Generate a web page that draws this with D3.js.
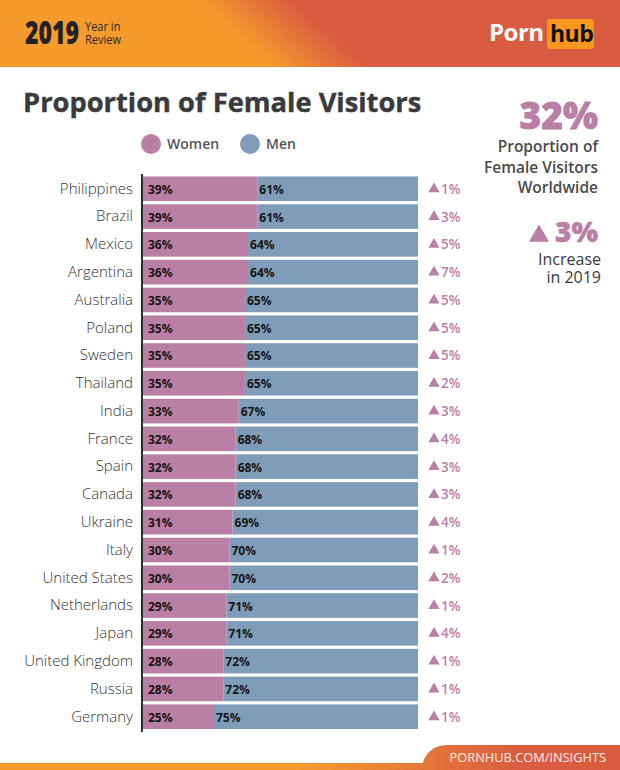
<!DOCTYPE html>
<html>
<head>
<meta charset="utf-8">
<script src="https://cdn.jsdelivr.net/npm/d3@7/dist/d3.min.js"></script>
<style>
html, body { margin: 0; padding: 0; background: #fff; }
svg { display: block; }
text { font-family: "Open Sans", sans-serif; }
</style>
</head>
<body>
<div id="chart"></div>
<script>
var countries = ["Philippines","Brazil","Mexico","Argentina","Australia","Poland","Sweden","Thailand","India","France","Spain","Canada","Ukraine","Italy","United States","Netherlands","Japan","United Kingdom","Russia","Germany"];
var women = [39,39,36,36,35,35,35,35,33,32,32,32,31,30,30,29,29,28,28,25];
var men = [61,61,64,64,65,65,65,65,67,68,68,68,69,70,70,71,71,72,72,75];
var increase = [1,3,5,7,5,5,5,2,3,4,3,3,4,1,2,1,4,1,1,1];

var pink = "#b97fa5", blue = "#7f9cb8", dark = "#3a3a3c";

var svg = d3.select("#chart").append("svg").attr("width", 620).attr("height", 770);
var defs = svg.append("defs");

var grad = defs.append("linearGradient").attr("id", "head")
	.attr("gradientUnits", "userSpaceOnUse")
	.attr("x1", 262).attr("y1", 56).attr("x2", 302).attr("y2", 10);
grad.append("stop").attr("offset", "0").attr("stop-color", "#f59a2c");
grad.append("stop").attr("offset", "1").attr("stop-color", "#da5c40");

var grad2 = defs.append("linearGradient").attr("id", "foot")
	.attr("gradientUnits", "userSpaceOnUse")
	.attr("x1", 300).attr("y1", 0).attr("x2", 520).attr("y2", 0);
grad2.append("stop").attr("offset", "0").attr("stop-color", "#f59a2c");
grad2.append("stop").attr("offset", "1").attr("stop-color", "#da5c40");

// header
svg.append("rect").attr("width", 620).attr("height", 67).attr("fill", "url(#head)");
svg.append("text").attr("transform", "translate(25,44) scale(0.72,1)").attr("font-size", 32).attr("font-weight", 800)
	.attr("fill", "#222").text("2019");
svg.append("text").attr("transform", "translate(85,31) scale(0.85,1)").attr("font-size", 13).attr("fill", "#2b2b2b").text("Year in");
svg.append("text").attr("transform", "translate(85,44) scale(0.85,1)").attr("font-size", 13).attr("fill", "#2b2b2b").text("Review");
svg.append("text").attr("x", 489).attr("y", 41).attr("font-size", 24).attr("font-weight", 700)
	.attr("fill", "#fff").attr("letter-spacing", -0.5).text("Porn");
svg.append("rect").attr("x", 547).attr("y", 19).attr("width", 47).attr("height", 30).attr("rx", 3).attr("fill", "#f7971d");
svg.append("text").attr("x", 550).attr("y", 42).attr("font-size", 23).attr("font-weight", 700)
	.attr("fill", "#111").attr("letter-spacing", -0.5).text("hub");

// title and legend
svg.append("text").attr("x", 23).attr("y", 112).attr("font-size", 27.3).attr("font-weight", 700)
	.attr("fill", dark).attr("stroke", dark).attr("stroke-width", 0.4).text("Proportion of Female Visitors");
svg.append("circle").attr("cx", 151).attr("cy", 144).attr("r", 10).attr("fill", pink);
svg.append("text").attr("x", 167).attr("y", 149).attr("font-size", 14).attr("font-weight", 600).attr("fill", "#555").text("Women");
svg.append("circle").attr("cx", 250).attr("cy", 144).attr("r", 10).attr("fill", blue);
svg.append("text").attr("x", 266).attr("y", 149).attr("font-size", 14).attr("font-weight", 600).attr("fill", "#555").text("Men");

// scales, the share axis of the original is not strictly linear
var x = d3.scaleLinear().domain([0,25,39,100]).range([143,214,257.3,418]);
var y = d3.scaleBand().domain(countries).range([176.5,729]).paddingInner(0.115);

var rows = svg.selectAll("g.row").data(countries).enter().append("g").attr("class", "row")
	.attr("transform", function(d) { return "translate(0," + y(d) + ")"; });

rows.append("rect").attr("x", function(d,i) { return x(0); })
	.attr("width", function(d,i) { return x(women[i]) - x(0); })
	.attr("height", y.bandwidth()).attr("fill", pink);
rows.append("rect").attr("x", function(d,i) { return x(women[i]); })
	.attr("width", function(d,i) { return x(women[i] + men[i]) - x(women[i]); })
	.attr("height", y.bandwidth()).attr("fill", blue);

rows.append("text").attr("x", 148).attr("y", y.bandwidth()/2 + 5)
	.attr("font-size", 12).attr("font-weight", 700).attr("fill", "#151515")
	.text(function(d,i) { return women[i] + "%"; });
rows.append("text").attr("x", function(d,i) { return x(women[i]) + 2; }).attr("y", y.bandwidth()/2 + 5)
	.attr("font-size", 12).attr("font-weight", 700).attr("fill", "#151515")
	.text(function(d,i) { return men[i] + "%"; });

// yearly change
var tri = d3.symbol().type(d3.symbolTriangle).size(55);
rows.append("path").attr("d", tri).attr("fill", pink)
	.attr("transform", "translate(434,12.5)");
rows.append("text").attr("x", 441).attr("y", y.bandwidth()/2 + 5)
	.attr("font-size", 13.5).attr("fill", pink).attr("font-weight", 600)
	.text(function(d,i) { return increase[i] + "%"; });

// category axis
var axis = svg.append("g").attr("transform", "translate(142,0)")
	.call(d3.axisLeft(y).tickSize(0).tickPadding(9));
axis.select(".domain").remove();
axis.selectAll("text").attr("font-size", 15).attr("font-weight", 300).attr("fill", "#333").style("font-family", "\"Open Sans\", sans-serif");
axis.append("line").attr("y1", 174).attr("y2", 732).attr("stroke", "#2d2d2d").attr("stroke-width", 2);

// callouts
svg.append("text").attr("x", 598).attr("y", 129).attr("text-anchor", "end")
	.attr("font-size", 37).attr("font-weight", 800).attr("fill", pink).attr("stroke", pink).attr("stroke-width", 0.8).text("32%");
["Proportion of","Female Visitors","Worldwide"].forEach(function(t,i) {
	svg.append("text").attr("x", 598).attr("y", 152 + i*20.5).attr("text-anchor", "end")
		.attr("font-size", 15.5).attr("font-weight", 600).attr("fill", "#4a4a4a").text(t);
});
svg.append("path").attr("d", d3.symbol().type(d3.symbolTriangle).size(175)).attr("fill", pink)
	.attr("transform", "translate(539,236)");
svg.append("text").attr("x", 598).attr("y", 242).attr("text-anchor", "end")
	.attr("font-size", 28).attr("font-weight", 800).attr("fill", pink).attr("stroke", pink).attr("stroke-width", 0.5).text("3%");
["Increase","in 2019"].forEach(function(t,i) {
	svg.append("text").attr("x", 601).attr("y", 265 + i*18).attr("text-anchor", "end")
		.attr("font-size", 16).attr("fill", "#3a3a3a").text(t);
});

// footer
svg.append("rect").attr("y", 763).attr("width", 620).attr("height", 7).attr("fill", "url(#foot)");
svg.append("path").attr("d", "M421,770 C424,752 434,745 448,745 L620,745 L620,770 Z").attr("fill", "url(#foot)");
svg.append("text").attr("x", 606).attr("y", 762).attr("text-anchor", "end")
	.attr("font-size", 12.8).attr("fill", "#fdeee4").text("PORNHUB.COM/INSIGHTS");
</script>
</body>
</html>
